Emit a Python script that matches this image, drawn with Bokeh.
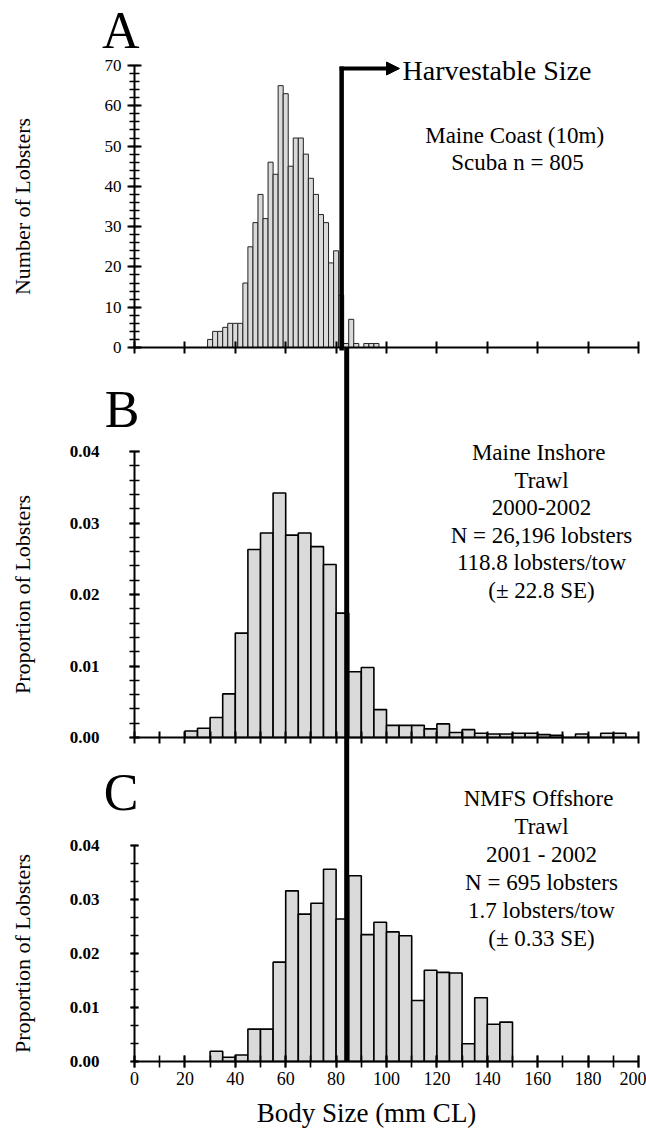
import numpy as np
from bokeh.plotting import figure
from bokeh.models import (Range1d, LinearAxis, FixedTicker, PrintfTickFormatter,
                          Arrow, NormalHead, Label, ColumnDataSource)
from bokeh.embed import file_html
from bokeh.resources import INLINE
from bokeh.core.properties import value

# ---------------- data ----------------
# Panel A: Maine coast, scuba survey (n = 805), 2-mm bins: left edges (mm CL) and counts
A_BIN = 2
A_LEFT = list(range(29, 97, 2))
A_COUNT = [2, 4, 4, 5, 6, 6, 6, 16, 25, 31, 38, 32, 46, 43, 65, 63, 45, 52,
           52, 48, 42, 38, 33, 31, 21, 24, 13, 1, 7, 1, 0, 1, 1, 1]

# Panel B: Maine inshore trawl 2000-2002, 5-mm bins
BC_BIN = 5
B_LEFT = list(range(20, 200, 5))
B_PROP = [0.0009, 0.0013, 0.0028, 0.0061, 0.0146, 0.0263, 0.0286, 0.0342, 0.0283,
          0.0286, 0.0267, 0.0242, 0.0174, 0.0092, 0.0098, 0.0039, 0.0017, 0.0017,
          0.0017, 0.0012, 0.0019, 0.0007, 0.0011, 0.0006, 0.0005, 0.0005, 0.0006,
          0.0006, 0.0004, 0.0003, 0.0, 0.0005, 0.0, 0.0006, 0.0006, 0.0]

# Panel C: NMFS offshore trawl 2001-2002, 5-mm bins
C_LEFT = list(range(30, 150, 5))
C_PROP = [0.0019, 0.0008, 0.0012, 0.0060, 0.0060, 0.0184, 0.0316, 0.0273, 0.0293,
          0.0356, 0.0264, 0.0344, 0.0235, 0.0258, 0.0240, 0.0233, 0.0113, 0.0169,
          0.0165, 0.0164, 0.0033, 0.0118, 0.0069, 0.0073]

HARVEST_A = 82.2    # harvestable size line as drawn in panel A (mm CL)
HARVEST_BC = 84.2   # as drawn through panels B and C

X_TICKS_A = list(range(0, 201, 20))
X_TICKS_BC = list(range(0, 201, 10))
X_LABEL_TICKS = list(range(0, 201, 20))
A_YTICKS = list(range(0, 71, 10))
A_YMINOR = list(range(0, 71, 2))
B_YTICKS = [0.00, 0.01, 0.02, 0.03, 0.04]
B_YMINOR = [round(0.002 * i, 4) for i in range(21)]
C_YTICKS = [0.00, 0.01, 0.02, 0.03, 0.04]
C_YMINOR = [0.01 * i / 3 for i in range(13)]

TEXT_A = ["Maine  Coast (10m)", "Scuba n = 805"]
TEXT_B = ["Maine  Inshore", "Trawl", "2000-2002", "N = 26,196 lobsters",
          "118.8 lobsters/tow", "(\u00b1 22.8 SE)"]
TEXT_C = ["NMFS  Offshore", "Trawl", "2001 - 2002", "N = 695 lobsters",
          "1.7 lobsters/tow", "(\u00b1 0.33 SE)"]

# ---------------- layout (canvas pixels) ----------------
FONT = "Liberation Serif"
W, H = 646, 1131
X0_PX, PX_PER_MM = 134, 2.52
# panel: (pixel of zero, pixel of top tick, top value)
PANELS = {"A": (347, 65, 70.0), "B": (737, 451, 0.04), "C": (1061, 845, 0.04)}


def to_val(panel, px):
    zero, top_px, top_v = PANELS[panel]
    return (zero - px) * top_v / (zero - top_px)


def to_mm(px):
    return (px - X0_PX) / PX_PER_MM


def prange(panel):
    return Range1d(to_val(panel, H), to_val(panel, 0))


p = figure(width=W, height=H,
           min_border_left=0, min_border_right=0, min_border_top=0, min_border_bottom=0,
           x_range=Range1d(to_mm(0), to_mm(W)), y_range=prange("C"),
           x_axis_type=None, y_axis_type=None,
           output_backend="svg", toolbar_location=None)
p.outline_line_color = None
p.background_fill_color = "white"
p.border_fill_color = "white"
p.extra_y_ranges = {"A": prange("A"), "B": prange("B")}

BAR_FILL = "#dadada"


def rkw(panel):
    return {} if panel == "C" else {"y_range_name": panel}


# bars
srcA = ColumnDataSource(dict(left=A_LEFT, right=[l + A_BIN for l in A_LEFT], top=A_COUNT))
p.quad(left="left", right="right", bottom=0, top="top", source=srcA, y_range_name="A",
       fill_color=BAR_FILL, line_color="#222222", line_width=1)
srcB = ColumnDataSource(dict(left=B_LEFT, right=[l + BC_BIN for l in B_LEFT], top=B_PROP))
p.quad(left="left", right="right", bottom=0, top="top", source=srcB, y_range_name="B",
       fill_color=BAR_FILL, line_color="black", line_width=1.6)
srcC = ColumnDataSource(dict(left=C_LEFT, right=[l + BC_BIN for l in C_LEFT], top=C_PROP))
p.quad(left="left", right="right", bottom=0, top="top", source=srcC,
       fill_color=BAR_FILL, line_color="black", line_width=1.6)

# harvestable size line and arrow
p.segment(x0=[HARVEST_A], y0=[to_val("A", 66)], x1=[HARVEST_A], y1=[to_val("A", 350)],
          y_range_name="A", line_color="black", line_width=4.5)
p.segment(x0=[HARVEST_BC], y0=[to_val("C", 347)], x1=[HARVEST_BC], y1=[0],
          line_color="black", line_width=5)
p.add_layout(Arrow(end=NormalHead(size=13, fill_color="black", line_color="black"),
                   x_start=HARVEST_A - 0.8, y_start=to_val("A", 68), x_end=to_mm(399),
                   y_end=to_val("A", 68), y_range_name="A",
                   line_color="black", line_width=4))
p.add_layout(Label(x=to_mm(402), y=to_val("A", 70), y_range_name="A", text="Harvestable Size",
                   text_font=FONT, text_font_size="28px", text_align="left",
                   text_baseline="middle", text_color="black"))


def panel_text(lines, panel, x_px, y0_px, step):
    src = ColumnDataSource(dict(x=[to_mm(x_px)] * len(lines),
                                y=[to_val(panel, y0_px + i * step) for i in range(len(lines))],
                                text=lines))
    p.text(x="x", y="y", text="text", source=src, text_font=value(FONT),
           text_font_size="23px", text_align="center", text_baseline="middle",
           text_color="black", **rkw(panel))


panel_text(TEXT_A, "A", 517, 135, 27.0)
panel_text(TEXT_B, "B", 541, 452, 27.6)
panel_text(TEXT_C, "C", 541, 798, 28.0)

# panel letters (anchored at the top of their text box)
for letter, panel, xr, top in [("A", "A", 139, 1), ("B", "B", 139, 380), ("C", "C", 138, 763)]:
    p.add_layout(Label(x=to_mm(xr), y=to_val(panel, top), text=letter, text_font=FONT,
                       text_font_size="52px", text_align="right",
                       text_baseline="top", text_color="black", **rkw(panel)))

# y-axis titles
for title, panel in [("Number of Lobsters", "A"), ("Proportion of Lobsters", "B"),
                     ("Proportion of Lobsters", "C")]:
    top_v = PANELS[panel][2]
    p.add_layout(Label(x=to_mm(22), y=top_v / 2, text=title, angle=np.pi / 2,
                       text_font=FONT, text_font_size="22px", text_align="center",
                       text_baseline="middle", text_color="black", **rkw(panel)))

# x-axis title
p.add_layout(Label(x=to_mm(366), y=to_val("C", 1112), text="Body Size (mm CL)",
                   text_font=FONT, text_font_size="27px", text_align="center",
                   text_baseline="middle", text_color="black"))


def style(ax, tin, tout, min_in, min_out, size="17px", standoff=5, bold=False):
    ax.axis_line_width = 2
    ax.axis_line_color = "black"
    ax.major_tick_line_width = 2
    ax.minor_tick_line_width = 1.6
    ax.major_tick_line_color = "black"
    ax.minor_tick_line_color = "black"
    ax.major_tick_in = tin
    ax.major_tick_out = tout
    ax.minor_tick_in = min_in
    ax.minor_tick_out = min_out
    ax.major_label_text_font = FONT
    ax.major_label_text_font_size = size
    ax.major_label_text_color = "black"
    ax.major_label_text_font_style = "bold" if bold else "normal"
    ax.major_label_standoff = standoff


# panel A axes
ayA = LinearAxis(y_range_name="A", fixed_location=0, bounds=(0, 70),
                 ticker=FixedTicker(ticks=A_YTICKS, minor_ticks=A_YMINOR))
style(ayA, 7, 7, 5, 5, "17px", 6)
p.add_layout(ayA, "left")
axA = LinearAxis(y_range_name="A", fixed_location=0, bounds=(0, 200),
                 ticker=FixedTicker(ticks=X_TICKS_A, minor_ticks=[]),
                 major_label_overrides={t: "" for t in X_TICKS_A})
style(axA, 6, 6, 0, 0, "1px", 0)
p.add_layout(axA, "below")

# panel B axes
ayB = LinearAxis(y_range_name="B", fixed_location=0, bounds=(0, 0.04),
                 ticker=FixedTicker(ticks=B_YTICKS, minor_ticks=B_YMINOR),
                 formatter=PrintfTickFormatter(format="%.2f"))
style(ayB, 5, 5, 5, 5, "17px", 30, bold=True)
p.add_layout(ayB, "left")
axB = LinearAxis(y_range_name="B", fixed_location=0, bounds=(0, 200),
                 ticker=FixedTicker(ticks=X_TICKS_BC, minor_ticks=[]),
                 major_label_overrides={t: "" for t in X_TICKS_BC})
style(axB, 6, 6, 0, 0, "1px", 0)
p.add_layout(axB, "below")

# panel C axes
ayC = LinearAxis(fixed_location=0, bounds=(0, 0.04),
                 ticker=FixedTicker(ticks=C_YTICKS, minor_ticks=C_YMINOR),
                 formatter=PrintfTickFormatter(format="%.2f"))
style(ayC, 4, 4, 4, 4, "17px", 31, bold=True)
p.add_layout(ayC, "left")
axC = LinearAxis(fixed_location=0, bounds=(0, 200),
                 ticker=FixedTicker(ticks=X_LABEL_TICKS, minor_ticks=X_TICKS_BC))
style(axC, 6, 6, 6, 6, "18px", 4)
p.add_layout(axC, "below")

open("out.html", "w").write(file_html(p, INLINE))
